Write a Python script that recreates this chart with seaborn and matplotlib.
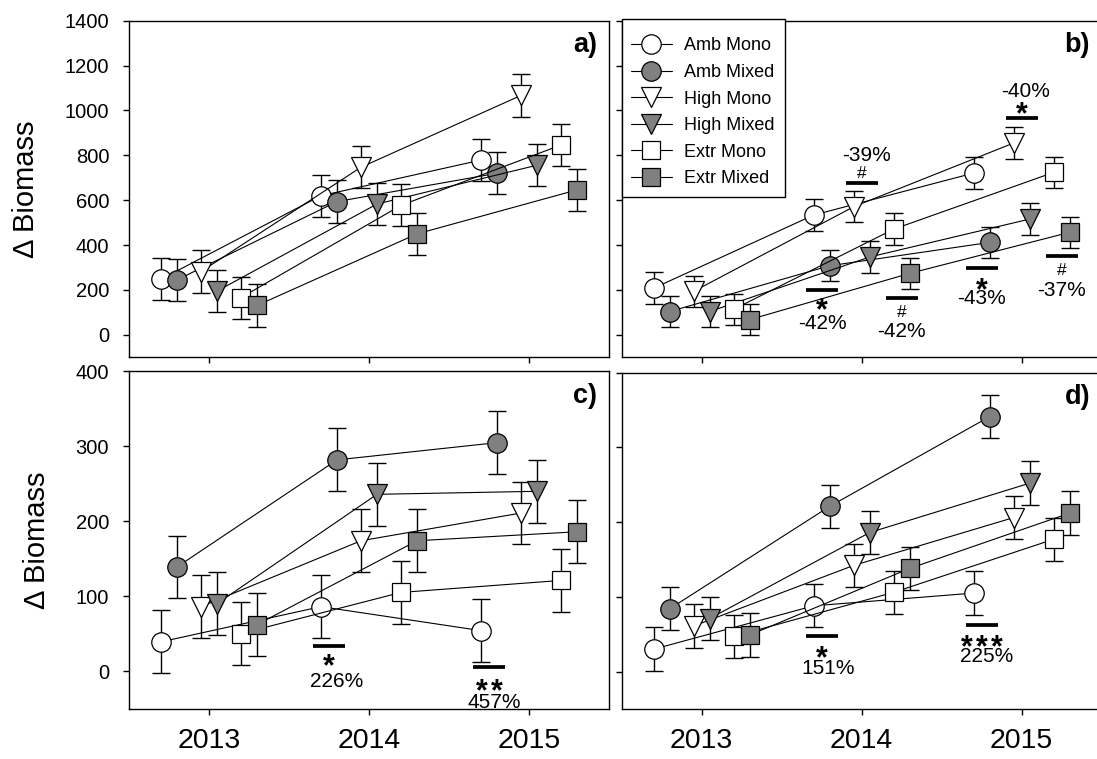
import numpy as np
import pandas as pd
import matplotlib
matplotlib.use("Agg")
import matplotlib.pyplot as plt
import seaborn as sns
from matplotlib.lines import Line2D
from matplotlib.patches import Rectangle

# ---------------- data ----------------
years = [2013, 2014, 2015]
treatments = ["Amb Mono", "Amb Mixed", "High Mono", "High Mixed", "Extr Mono", "Extr Mixed"]
offsets = [-0.30, -0.20, -0.05, 0.05, 0.20, 0.30]

a_amb_mono = [248, 620, 779]
a_amb_mixed = [245, 594, 720]
a_high_mono = [282, 747, 1067]
a_high_mixed = [195, 583, 756]
a_extr_mono = [166, 577, 846]
a_extr_mixed = [131, 450, 646]
a_se = [94, 94, 94]

b_amb_mono = [208, 534, 721]
b_amb_mixed = [104, 308, 412]
b_high_mono = [194, 571, 855]
b_high_mixed = [104, 347, 516]
b_extr_mono = [114, 471, 724]
b_extr_mixed = [68, 274, 457]
b_se = [70, 70, 70]

c_amb_mono = [39, 86, 54]
c_amb_mixed = [139, 282, 305]
c_high_mono = [86, 174, 211]
c_high_mixed = [90, 236, 240]
c_extr_mono = [50, 105, 121]
c_extr_mixed = [62, 174, 186]
c_se = [42, 42, 42]

d_amb_mono = [30, 88, 105]
d_amb_mixed = [84, 221, 341]
d_high_mono = [61, 142, 206]
d_high_mixed = [71, 186, 252]
d_extr_mono = [47, 106, 177]
d_extr_mixed = [49, 138, 212]
d_se = [29, 29, 29]

# significance annotations
sig_panel = ["b", "b", "b", "b", "b", "b", "c", "c", "d", "d"]
sig_x = [2014.0, 2015.0, 2013.75, 2014.25, 2014.75, 2015.25, 2013.75, 2014.75, 2013.75, 2014.75]
sig_bar_y = [678, 968, 200, 166, 300, 352, 34, 5, 48, 62]
sig_mark = ["#", "*", "*", "#", "*", "#", "*", "**", "*", "***"]
sig_mark_y = [727, 1024, 151, 108, 242, 292, 18.7, -14, 30.8, 44.6]
sig_pct = ["-39%", "-40%", "-42%", "-42%", "-43%", "-37%", "226%", "457%", "151%", "225%"]
sig_pct_x = [2014.03, 2015.025, 2013.755, 2014.25, 2014.75, 2015.25, 2013.80, 2014.78, 2013.79, 2014.78]
sig_pct_y = [806, 1094, 59, 22, 171, 208, -11, -39, 6.7, 22.3]

panel_series = {
    "a": ([a_amb_mono, a_amb_mixed, a_high_mono, a_high_mixed, a_extr_mono, a_extr_mixed], a_se),
    "b": ([b_amb_mono, b_amb_mixed, b_high_mono, b_high_mixed, b_extr_mono, b_extr_mixed], b_se),
    "c": ([c_amb_mono, c_amb_mixed, c_high_mono, c_high_mixed, c_extr_mono, c_extr_mixed], c_se),
    "d": ([d_amb_mono, d_amb_mixed, d_high_mono, d_high_mixed, d_extr_mono, d_extr_mixed], d_se),
}

rows = []
for p, (series, se) in panel_series.items():
    for t, off, vals in zip(treatments, offsets, series):
        for yr, v, e in zip(years, vals, se):
            rows.append(dict(panel=p, treatment=t, x=yr + off, value=v, se=e))
df = pd.DataFrame(rows)

# ---------------- style ----------------
sns.set_theme(style="ticks")
plt.rcParams["font.family"] = ["Liberation Sans", "DejaVu Sans"]
plt.rcParams.update({
    "axes.linewidth": 1.0, "axes.edgecolor": "black", "text.color": "black",
    "axes.labelcolor": "black", "xtick.color": "black", "ytick.color": "black",
})

markers = ["o", "o", "v", "v", "s", "s"]
faces = ["white", "#808080", "white", "#808080", "white", "#808080"]
msizes = [14, 14, 14.5, 14.5, 12.5, 12.5]

fig = plt.figure(figsize=(10.97, 7.59), dpi=100)
W, H = 1097, 759
def rect(l, t, w, h):
    return [l / W, 1 - (t + h) / H, w / W, h / H]

axes = {
    "a": fig.add_axes(rect(129, 20.7, 480, 336.6)),
    "b": fig.add_axes(rect(621.7, 20.7, 480, 336.6)),
    "c": fig.add_axes(rect(129, 371.5, 480, 337)),
    "d": fig.add_axes(rect(621.7, 372.5, 480, 336.5)),
}
ylims = {"a": (-100, 1400), "b": (-100, 1400), "c": (-50, 400), "d": (-50, 400)}
yticks = {"a": np.arange(0, 1401, 200), "b": np.arange(0, 1401, 200),
          "c": np.arange(0, 401, 100), "d": np.arange(0, 401, 100)}

for p, ax in axes.items():
    sub_p = df[df.panel == p]
    for i, t in enumerate(treatments):
        sub = sub_p[sub_p.treatment == t]
        ax.errorbar(sub.x, sub.value, yerr=sub.se, fmt="none", ecolor="black",
                    elinewidth=1.0, capsize=6.8, capthick=1.0, zorder=2)
        sns.lineplot(data=sub, x="x", y="value", ax=ax, color="black", lw=0.8,
                     marker=markers[i], markersize=msizes[i],
                     markerfacecolor=faces[i], markeredgecolor="black",
                     markeredgewidth=0.9, estimator=None, sort=False,
                     legend=False, zorder=3 + i * 0.1)
    ax.set_xlim(2012.5, 2015.5)
    ax.set_ylim(*ylims[p])
    ax.set_yticks(yticks[p])
    ax.set_xticks(years)
    ax.set_xlabel("")
    ax.set_ylabel("")
    for s in ax.spines.values():
        s.set_visible(True)
        s.set_color("black")
        s.set_linewidth(1.0)
    ax.tick_params(axis="both", direction="out", length=4.3, width=1.0, color="black")
    ax.tick_params(axis="y", labelsize=14.5, pad=10)
    ax.tick_params(axis="x", labelsize=20.5, pad=9.5)
    if p in ("b", "d"):
        ax.set_yticklabels([])
    else:
        ax.set_ylabel("\u0394 Biomass", fontsize=21, labelpad=18)
    if p in ("a", "b"):
        ax.set_xticklabels([])
    else:
        ax.set_xticklabels([str(y) for y in years])
    ax.text(0.976, 0.965, p + ")", transform=ax.transAxes, ha="right", va="top",
            fontsize=19.5, fontweight="bold")


def ctext(ax, x, y, s, fs, weight="normal", cfrac=0.36, dx=0.0):
    ax.annotate(s, xy=(x, y), xytext=(dx, -cfrac * fs), textcoords="offset points",
                ha="center", va="baseline", fontsize=fs, fontweight=weight,
                annotation_clip=False)


for p, x, by, mk, my, pc, px, py in zip(sig_panel, sig_x, sig_bar_y, sig_mark, sig_mark_y,
                                         sig_pct, sig_pct_x, sig_pct_y):
    ax = axes[p]
    ax.plot([x - 0.1, x + 0.1], [by, by], color="black", lw=2.7, solid_capstyle="butt", zorder=4)
    if mk == "#":
        ctext(ax, x, my, mk, 12.5, cfrac=0.34)
    else:
        n = len(mk)
        for k in range(n):
            ctext(ax, x, my, "*", 22, weight="bold", cfrac=0.6, dx=(k - (n - 1) / 2) * 10.7)
    ctext(ax, px, py, pc, 15, cfrac=0.36)

# legend: frame drawn as a rectangle, entries placed inside it
box_l, box_t, box_r, box_b = 621.7, 19.3, 785, 196.7
fig.patches.append(Rectangle((box_l / W, 1 - box_b / H), (box_r - box_l) / W, (box_b - box_t) / H,
                             transform=fig.transFigure, facecolor="white", edgecolor="black",
                             linewidth=1.0, zorder=9))
handles = [Line2D([0], [0], color="black", lw=0.8, marker=m, markersize=s,
                  markerfacecolor=f, markeredgecolor="black", markeredgewidth=0.9)
           for m, s, f in zip(markers, msizes, faces)]
leg = fig.legend(handles, treatments, loc="upper left",
                 bbox_to_anchor=(630.6 / W, 1 - 37.5 / H), bbox_transform=fig.transFigure,
                 borderaxespad=0, frameon=False, fontsize=13, handlelength=2.3,
                 handletextpad=0.65, labelspacing=0.53, borderpad=0)
leg.set_zorder(10)

fig.savefig("out.png", dpi=100)
